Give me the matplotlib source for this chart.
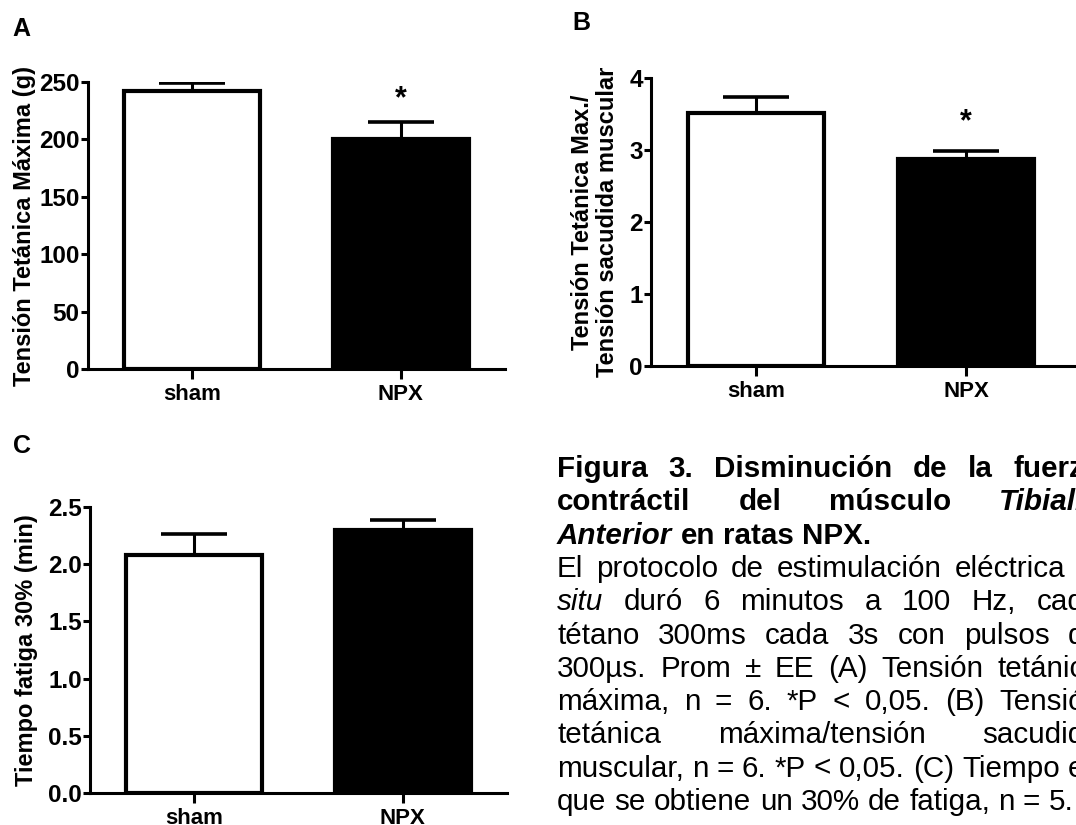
import matplotlib
matplotlib.use('Agg')
import matplotlib.pyplot as plt

plt.rcParams['font.family'] = ['Liberation Sans', 'DejaVu Sans']
plt.rcParams['font.weight'] = 'bold'

# data (mean, upper SEM)
groups = ['sham', 'NPX']
tension_mean = [242, 200]
tension_sem = [7, 15]
ratio_mean = [3.52, 2.88]
ratio_sem = [0.22, 0.11]
fatigue_mean = [2.08, 2.30]
fatigue_sem = [0.18, 0.09]

a_ticks = [0, 50, 100, 150, 200, 250]
b_ticks = [0, 1, 2, 3, 4]
c_ticks = [0.0, 0.5, 1.0, 1.5, 2.0, 2.5]
c_ticklabels = ['0.0', '0.5', '1.0', '1.5', '2.0', '2.5']

# caption lines: words with style and whether the line is justified
caption = [
    ([('Figura', 'b'), ('3.', 'b'), ('Disminución', 'b'), ('de', 'b'), ('la', 'b'), ('fuerza', 'b')], True),
    ([('contráctil', 'b'), ('del', 'b'), ('músculo', 'b'), ('Tibialis', 'bi')], True),
    ([('Anterior', 'bi'), ('en', 'b'), ('ratas', 'b'), ('NPX.', 'b')], False),
    ([('El', 'r'), ('protocolo', 'r'), ('de', 'r'), ('estimulación', 'r'), ('eléctrica', 'r'), ('in', 'i')], True),
    ([('situ', 'i'), ('duró', 'r'), ('6', 'r'), ('minutos', 'r'), ('a', 'r'), ('100', 'r'), ('Hz,', 'r'), ('cada', 'r')], True),
    ([('tétano', 'r'), ('300ms', 'r'), ('cada', 'r'), ('3s', 'r'), ('con', 'r'), ('pulsos', 'r'), ('de', 'r')], True),
    ([('300µs.', 'r'), ('Prom', 'r'), ('±', 'r'), ('EE', 'r'), ('(A)', 'r'), ('Tensión', 'r'), ('tetánica', 'r')], True),
    ([('máxima,', 'r'), ('n', 'r'), ('=', 'r'), ('6.', 'r'), ('*P', 'r'), ('<', 'r'), ('0,05.', 'r'), ('(B)', 'r'), ('Tensión', 'r')], True),
    ([('tetánica', 'r'), ('máxima/tensión', 'r'), ('sacudida', 'r')], True),
    ([('muscular,', 'r'), ('n', 'r'), ('=', 'r'), ('6.', 'r'), ('*P', 'r'), ('<', 'r'), ('0,05.', 'r'), ('(C)', 'r'), ('Tiempo', 'r'), ('en', 'r')], True),
    ([('que', 'r'), ('se', 'r'), ('obtiene', 'r'), ('un', 'r'), ('30%', 'r'), ('de', 'r'), ('fatiga,', 'r'), ('n', 'r'), ('=', 'r'), ('5.', 'r')], False),
]

W, H = 1076, 825
fig = plt.figure(figsize=(W / 100, H / 100), dpi=100)
fig.patch.set_facecolor('white')


def bar_panel(rect, means, sems, ticks, ticklabels, ylabel, label_x, xmax=1.5, star_pad=None):
    ax = fig.add_axes(rect)
    x = range(len(groups))
    ax.bar(x, means, width=0.65, color=['white', 'black'], edgecolor='black', linewidth=3, zorder=2)
    ax.errorbar(x, means, yerr=[[0] * len(sems), sems], fmt='none', ecolor='black',
                elinewidth=2.2, capsize=24, capthick=2.6, zorder=1)
    ax.set_xlim(-0.5, xmax)
    ax.set_ylim(ticks[0], ticks[-1])
    ax.set_yticks(ticks)
    ax.set_yticklabels(ticklabels)
    ax.set_xticks(list(x))
    ax.set_xticklabels(groups)
    for s in ['top', 'right']:
        ax.spines[s].set_visible(False)
    for s in ['left', 'bottom']:
        ax.spines[s].set_linewidth(2.2)
    ax.tick_params(axis='y', direction='out', length=5, width=2.2, pad=1, labelsize=17.5)
    ax.tick_params(axis='x', direction='out', length=7, width=2.2, pad=4, labelsize=16)
    ax.set_ylabel(ylabel, fontsize=17, fontweight='bold', linespacing=1.1)
    ax.yaxis.set_label_coords(label_x, 0.5)
    if star_pad is not None:
        ax.annotate('*', xy=(1, means[1] + sems[1]), xytext=(0, star_pad), textcoords='offset points',
                    ha='center', va='bottom', fontsize=22, fontweight='bold')
    return ax


bar_panel([88 / W, 1 - 369 / H, 417 / W, 287 / H], tension_mean, tension_sem, a_ticks,
          [str(t) for t in a_ticks], 'Tensión Tetánica Máxima (g)', -0.125, star_pad=6)
bar_panel([651 / W, 1 - 366 / H, 430 / W, 288 / H], ratio_mean, ratio_sem, b_ticks,
          [str(t) for t in b_ticks], 'Tensión Tetánica Max./\nTensión sacudida muscular', -0.075,
          xmax=1.548, star_pad=10)
bar_panel([90 / W, 1 - 793 / H, 417 / W, 286 / H], fatigue_mean, fatigue_sem, c_ticks,
          c_ticklabels, 'Tiempo fatiga 30% (min)', -0.125)

for letter, px, py in [('A', 12, 36), ('B', 572, 30), ('C', 13, 453)]:
    fig.text(px / W, 1 - py / H, letter, fontsize=18, fontweight='bold', va='baseline')

# justified caption text (runs past the right edge, as in the source page)
styles = {'b': ('bold', 'normal'), 'bi': ('bold', 'italic'), 'r': ('normal', 'normal'), 'i': ('normal', 'italic')}
x0, x1 = 557, 1101
base0, step = 477, 33.3
cap_size = 21.3
renderer = fig.canvas.get_renderer()
for i, (words, justified) in enumerate(caption):
    yb = 1 - (base0 + i * step) / H
    arts = []
    for w, st in words:
        wt, sl = styles[st]
        arts.append(fig.text(0, yb, w, fontsize=cap_size, fontweight=wt, fontstyle=sl, va='baseline'))
    widths = [a.get_window_extent(renderer).width for a in arts]
    if justified:
        gap = (x1 - x0 - sum(widths)) / (len(arts) - 1)
    else:
        gap = 0.278 * cap_size * 100 / 72
    xp = x0
    for a, w in zip(arts, widths):
        a.set_x(xp / W)
        xp += w + gap

fig.savefig('out.png', dpi=100)
